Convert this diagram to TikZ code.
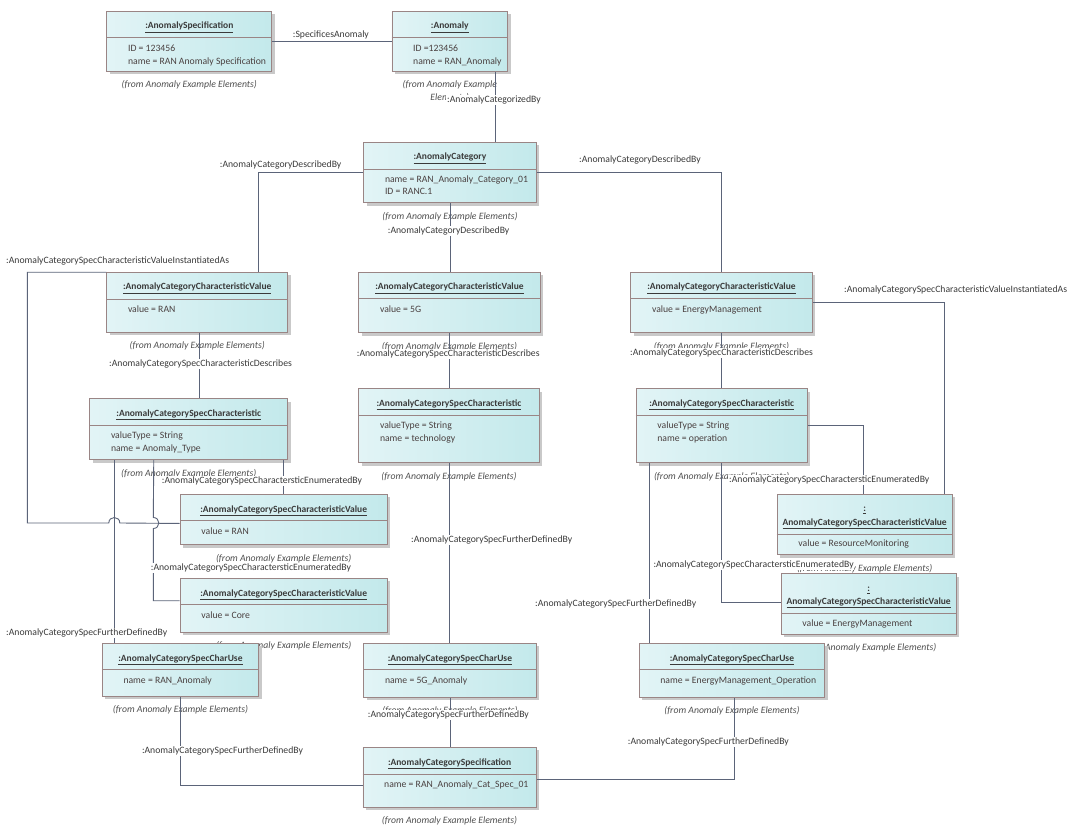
\documentclass[tikz,border=0pt]{standalone}
\usepackage{fontspec}
\setmainfont{Carlito}
\usetikzlibrary{shadows,calc}
\definecolor{boxL}{HTML}{E2F4F6}
\definecolor{boxR}{HTML}{C3E9EB}
\definecolor{boxB}{HTML}{9A8585}
\definecolor{lineC}{HTML}{5B6479}
\definecolor{txtC}{HTML}{4A4040}
\definecolor{lblC}{HTML}{3A3A3A}
\definecolor{fromC}{HTML}{505050}
\definecolor{shadC}{HTML}{C9C9C9}
\tikzset{
  objbox/.style={rectangle, draw=boxB, line width=0.9pt, left color=boxL, right color=boxR, inner sep=0pt,
    drop shadow={shadow xshift=3pt, shadow yshift=-3pt, fill=shadC, opacity=1}},
  sepline/.style={draw=boxB, line width=0.9pt},
  titletext/.style={font=\fontsize{9.5}{11}\selectfont\bfseries, text=lblC, inner sep=0pt, anchor=base},
  attrtext/.style={font=\fontsize{9.7}{11}\selectfont, text=txtC, inner sep=0pt, anchor=base west},
  fromtext/.style={font=\fontsize{9.7}{11}\selectfont\itshape, text=fromC, inner sep=0pt, anchor=base},
  lbl/.style={font=\fontsize{9.7}{11}\selectfont, text=lblC, fill=white, inner sep=0.8pt, anchor=base west},
  conn/.style={draw=lineC, line width=0.9pt},
}
\newcommand\umlbox[6]{%
  \node[objbox, minimum width=#4pt, minimum height=#5pt, anchor=north west] (#1) at (#2,#3) {};
  \draw[sepline] ([yshift=-#6pt]#1.north west) -- ([yshift=-#6pt]#1.north east);}
\newcommand\umltitle[4]{\node[titletext] (#1-#2) at ([yshift=-#3pt]#1.north) {\underline{#4}};}
\newcommand\umlattr[4]{\node[attrtext] (#1-#2) at ([xshift=21.5pt,yshift=-#3pt]#1.north west) {#4};}
\newcommand\umlfrom[1]{\node[fromtext] (#1-f) at ([yshift=-15.9pt]#1.south) {(from Anomaly Example Elements)};}
\newcommand\umllbl[4]{\node[lbl] (#1) at (#2,#3) {#4};}
\begin{document}
\begin{tikzpicture}[x=1pt,y=-1pt]
\useasboundingbox[fill=white] (0,0) rectangle (1077,837);

% ---------- objects ----------
\umlbox{aspec}{106.4}{10.7}{164.9}{60.3}{26.6}
\umltitle{aspec}{t}{18.3}{:AnomalySpecification}
\umlattr{aspec}{a}{40.5}{ID = 123456}
\umlattr{aspec}{b}{53.5}{name = RAN Anomaly Specification}
\umlfrom{aspec}

\umlbox{anom}{391.5}{10.7}{115.7}{60.3}{26.6}
\umltitle{anom}{t}{18.3}{:Anomaly}
\umlattr{anom}{a}{40.5}{ID =123456}
\umlattr{anom}{b}{53.5}{name = RAN\_Anomaly}
\node[fromtext] (anom-f) at ([yshift=-15.9pt]anom.south) {(from Anomaly Example};
\node[fromtext] (anom-f2) at ([yshift=-29pt]anom.south) {Elements)};

\umlbox{acat}{363.3}{141.7}{172.4}{60.6}{27.3}
\umltitle{acat}{t}{18.3}{:AnomalyCategory}
\umlattr{acat}{a}{40.5}{name = RAN\_Anomaly\_Category\_01}
\umlattr{acat}{b}{53.3}{ID = RANC.1}
\umlfrom{acat}

\umlbox{cvran}{106.3}{271.7}{181}{60.3}{27.3}
\umltitle{cvran}{t}{18.3}{:AnomalyCategoryCharacteristicValue}
\umlattr{cvran}{a}{40.5}{value = RAN}
\umlfrom{cvran}

\umlbox{cvfg}{358.3}{271.7}{181.4}{60.6}{27}
\umltitle{cvfg}{t}{18.3}{:AnomalyCategoryCharacteristicValue}
\umlattr{cvfg}{a}{40.5}{value = 5G}
\umlfrom{cvfg}

\umlbox{cvem}{630.3}{271.7}{181.4}{60.6}{27}
\umltitle{cvem}{t}{18.3}{:AnomalyCategoryCharacteristicValue}
\umlattr{cvem}{a}{40.5}{value = EnergyManagement}
\umlfrom{cvem}

\umlbox{scran}{89.3}{398.3}{198}{61}{27}
\umltitle{scran}{t}{18.3}{:AnomalyCategorySpecCharacteristic}
\umlattr{scran}{a}{40.5}{valueType = String}
\umlattr{scran}{b}{53.5}{name = Anomaly\_Type}
\umlfrom{scran}

\umlbox{scfg}{358.3}{388.3}{180.4}{74}{27}
\umltitle{scfg}{t}{18.3}{:AnomalyCategorySpecCharacteristic}
\umlattr{scfg}{a}{40.5}{valueType = String}
\umlattr{scfg}{b}{53.5}{name = technology}
\umlfrom{scfg}

\umlbox{scem}{635.7}{388.3}{171}{74}{27}
\umltitle{scem}{t}{18.3}{:AnomalyCategorySpecCharacteristic}
\umlattr{scem}{a}{40.5}{valueType = String}
\umlattr{scem}{b}{53.5}{name = operation}
\umlfrom{scem}

\umlbox{scvran}{179.7}{493.7}{207}{50.6}{27}
\umltitle{scvran}{t}{18.3}{:AnomalyCategorySpecCharacteristicValue}
\umlattr{scvran}{a}{40.5}{value = RAN}
\umlfrom{scvran}

\umlbox{scvcore}{179.7}{577.7}{207}{54}{26.6}
\umltitle{scvcore}{t}{18.3}{:AnomalyCategorySpecCharacteristicValue}
\umlattr{scvcore}{a}{40.5}{value = Core}
\umlfrom{scvcore}

\umlbox{scvrm}{776.7}{493.7}{175}{60.6}{40.3}
\umltitle{scvrm}{t}{18}{:}
\umltitle{scvrm}{u}{31.3}{AnomalyCategorySpecCharacteristicValue}
\umlattr{scvrm}{a}{53.1}{value = ResourceMonitoring}
\umlfrom{scvrm}

\umlbox{scvem}{780.7}{573.3}{175}{60.7}{40}
\umltitle{scvem}{t}{18}{:}
\umltitle{scvem}{u}{31.3}{AnomalyCategorySpecCharacteristicValue}
\umlattr{scvem}{a}{53.3}{value = EnergyManagement}
\umlfrom{scvem}

\umlbox{curan}{101.8}{642.7}{156.4}{53.3}{27}
\umltitle{curan}{t}{18.3}{:AnomalyCategorySpecCharUse}
\umlattr{curan}{a}{40.5}{name = RAN\_Anomaly}
\umlfrom{curan}

\umlbox{cufg}{363.3}{642.7}{172.4}{54}{26.6}
\umltitle{cufg}{t}{18.3}{:AnomalyCategorySpecCharUse}
\umlattr{cufg}{a}{40.5}{name = 5G\_Anomaly}
\umlfrom{cufg}

\umlbox{cuem}{638.7}{642.7}{185.6}{54}{26.6}
\umltitle{cuem}{t}{18.3}{:AnomalyCategorySpecCharUse}
\umlattr{cuem}{a}{40.5}{name = EnergyManagement\_Operation}
\umlfrom{cuem}

\umlbox{acspec}{362.5}{746.7}{173.2}{60}{27.3}
\umltitle{acspec}{t}{18.3}{:AnomalyCategorySpecification}
\umlattr{acspec}{a}{40.5}{name = RAN\_Anomaly\_Cat\_Spec\_01}
\umlfrom{acspec}

% ---------- connectors ----------
\draw[conn] (aspec.east) -- (anom.west);
\draw[conn] ([xshift=46pt]anom.south) -- ([xshift=46pt]anom.south |- acat.north);
\draw[conn] (acat.west) -| ([xshift=61.5pt]cvran.north);
\draw[conn] (acat.south) -- (acat.south |- cvfg.north);
\draw[conn] (acat.east) -| (cvem.north);
\draw[conn] ([xshift=1.9pt]cvran.south) -- ([xshift=1.9pt]cvran.south |- scran.north);
\draw[conn] (cvfg.south) -- (cvfg.south |- scfg.north);
\draw[conn] (cvem.south) -- (cvem.south |- scem.north);
\coordinate (loopA) at (27.3,272.3);
\coordinate (loopB) at (27.3,523);
\draw[conn] ([yshift=-0.6pt]cvran.north west) -- (loopA) -- (loopB) -- (108.8,523)
  .. controls (108.8,515.7) and (119.8,515.7) .. (119.8,523) -- ([yshift=-4pt]scvran.west);
\draw[conn] (cvem.east) -| ([xshift=80.1pt]scvrm.north);
\draw[conn] ([xshift=95pt]scran.south) -- ([xshift=95pt]scran.south |- scvran.north);
\draw[conn] ([xshift=-35pt]scran.south) -- (153.3,517.5)
  .. controls (160.6,517.5) and (160.6,528.5) .. (153.3,528.5) |- ([yshift=4.4pt]scvcore.west);
\draw[conn] ([xshift=-74pt]scran.south) -- ([xshift=-74pt]scran.south |- curan.north);
\draw[conn] (scfg.south) -- (scfg.south |- cufg.north);
\draw[conn] (scem.east) -| ([xshift=-0.9pt]scvrm.north);
\draw[conn] (scem.south) |- ([yshift=1.4pt]scvem.west);
\draw[conn] ([xshift=-72.5pt]scem.south) -- ([xshift=-72.5pt]scem.south |- cuem.north);
\draw[conn] (curan.south) |- ([yshift=-8.3pt]acspec.west);
\draw[conn] (cufg.south) -- (cufg.south |- acspec.north);
\draw[conn] ([yshift=-2.6pt]acspec.east) -| ([xshift=2.8pt]cuem.south);

% ---------- labels ----------
\umllbl{l1}{291.9}{37.1}{:SpecificesAnomaly}
\umllbl{l2}{446.2}{102.1}{:AnomalyCategorizedBy}
\umllbl{l3}{218.9}{167.1}{:AnomalyCategoryDescribedBy}
\umllbl{l4}{386.9}{233.1}{:AnomalyCategoryDescribedBy}
\umllbl{l5}{578.2}{162.1}{:AnomalyCategoryDescribedBy}
\umllbl{l6}{108.2}{366.1}{:AnomalyCategorySpecCharacteristicDescribes}
\umllbl{l7}{355.9}{356.1}{:AnomalyCategorySpecCharacteristicDescribes}
\umllbl{l8}{629.2}{355.8}{:AnomalyCategorySpecCharacteristicDescribes}
\umllbl{l9}{5.2}{263.1}{:AnomalyCategorySpecCharacteristicValueInstantiatedAs}
\umllbl{l10}{843.2}{292.4}{:AnomalyCategorySpecCharacteristicValueInstantiatedAs}
\umllbl{l11}{160.9}{483.8}{:AnomalyCategorySpecCharactersticEnumeratedBy}
\umllbl{l12}{149.9}{570.1}{:AnomalyCategorySpecCharactersticEnumeratedBy}
\umllbl{l13}{5.2}{635.4}{:AnomalyCategorySpecFurtherDefinedBy}
\umllbl{l14}{410.2}{542.1}{:AnomalyCategorySpecFurtherDefinedBy}
\umllbl{l15}{728.2}{482.1}{:AnomalyCategorySpecCharactersticEnumeratedBy}
\umllbl{l16}{652.5}{567.4}{:AnomalyCategorySpecCharactersticEnumeratedBy}
\umllbl{l17}{534.2}{606.8}{:AnomalyCategorySpecFurtherDefinedBy}
\umllbl{l18}{141}{753.1}{:AnomalyCategorySpecFurtherDefinedBy}
\umllbl{l19}{366.9}{717.1}{:AnomalyCategorySpecFurtherDefinedBy}
\umllbl{l20}{626.9}{744.1}{:AnomalyCategorySpecFurtherDefinedBy}
\end{tikzpicture}
\end{document}
